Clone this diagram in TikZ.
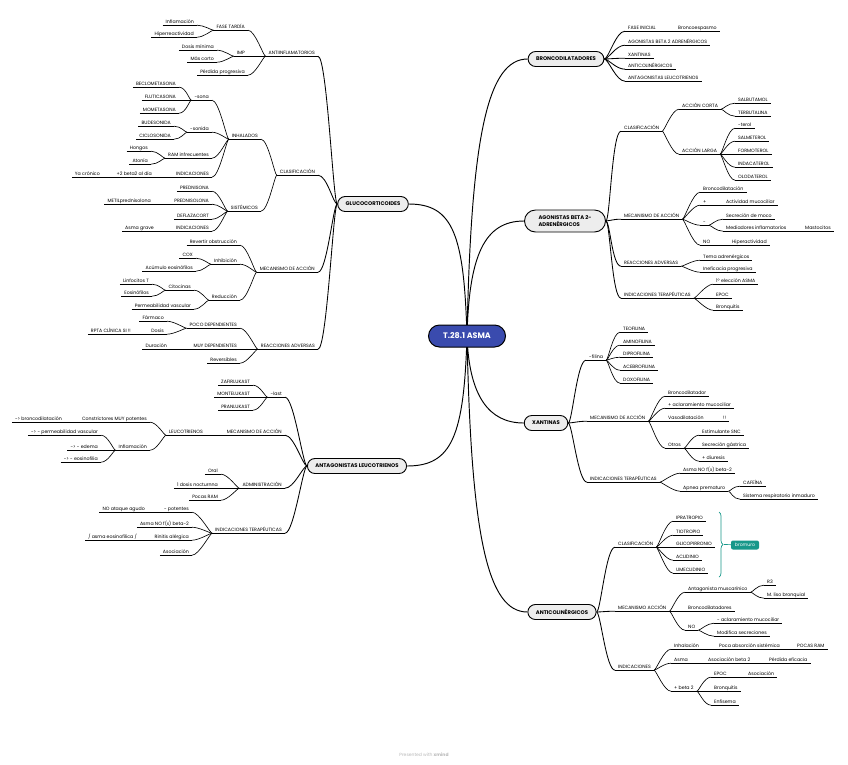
\documentclass[tikz,border=0pt]{standalone}
\usepackage{fontspec}
\setmainfont{Poppins}
\usetikzlibrary{backgrounds,decorations.pathreplacing}
\definecolor{asmablue}{HTML}{3A4BAE}
\definecolor{topicgray}{HTML}{EDEDED}
\definecolor{bromteal}{HTML}{17988A}
\newcommand{\lbl}{\fontsize{4.7}{5}\selectfont}
\newcommand{\tpc}{\fontsize{5.3}{7}\selectfont\bfseries}

\begin{document}
\begin{tikzpicture}[x=1pt,y=-1pt,
   lt/.style={font=\lbl, inner xsep=3pt, inner ysep=0.8pt, text height=3.4pt, text depth=1pt, anchor=east,
     append after command={(\tikzlastnode.south west) edge[line width=0.65pt] (\tikzlastnode.south east)}},
   rt/.style={lt, anchor=west},
   topic/.style={draw, line width=0.9pt, fill=topicgray, rounded corners=7.5pt, minimum height=15pt, inner xsep=8pt, font=\tpc},
   lk/.style={line width=0.65pt, out=180, in=0, out distance=2pt, in distance=7pt},
   rk/.style={line width=0.65pt, out=0, in=180, out distance=2pt, in distance=7pt},
   lk0/.style={lk, line width=0.85pt, out distance=4pt, in distance=9pt},
   rk0/.style={rk, line width=0.85pt, out distance=4pt, in distance=9pt},
   ck/.style={line width=0.95pt}]
  \useasboundingbox (0,0) rectangle (848,764);

  % centre and main topics
  \node[draw, line width=1pt, fill=asmablue, text=white, rounded corners=11pt, minimum width=77pt,
        minimum height=22pt, font=\fontsize{8}{9}\selectfont\bfseries] (asma) at (467,336) {T.28.1 ASMA};
  \node[topic] (gluco) at (373,204) {GLUCOCORTICOIDES};
  \node[topic] (antag) at (357,466) {ANTAGONISTAS LEUCOTRIENOS};
  \node[topic] (bronco) at (566,59) {BRONCODILATADORES};
  \node[topic, align=left, minimum width=81pt, minimum height=22pt, rounded corners=11pt] (agon) at (565,221) {AGONISTAS BETA 2-\\ADRENÉRGICOS};
  \node[topic] (xant) at (546,423) {XANTINAS};
  \node[topic] (anticol) at (562,612) {ANTICOLINÉRGICOS};

  % glucocorticoides
  \node[lt] (antiinf) at (318,53) {ANTIINFLAMATORIOS};
  \node[lt] (fasetard) at (248,27) {FASE TARDÍA};
  \node[lt] (inflam) at (197,22) {Inflamación};
  \node[lt] (hiperreac) at (197,34) {Hiperreactividad};
  \node[lt] (imp) at (248,53) {IMP};
  \node[lt] (dosismin) at (217,47) {Dosis mínima};
  \node[lt] (mascorto) at (217,59) {Más corto};
  \node[lt] (perdprog) at (248,72) {Pérdida progresiva};
  \node[lt] (clasif) at (318,172) {CLASIFICACIÓN};
  \node[lt] (inhal) at (261,136) {INHALADOS};
  \node[lt] (sona) at (212,97) {-sona};
  \node[lt] (beclo) at (179,84) {BECLOMETASONA};
  \node[lt] (flutic) at (179,97) {FLUTICASONA};
  \node[lt] (mometa) at (179,110) {MOMETASONA};
  \node[lt] (sonida) at (212,129) {-sonida};
  \node[lt] (budes) at (174,123) {BUDESONIDA};
  \node[lt] (ciclo) at (174,136) {CICLOSONIDA};
  \node[lt] (raminf) at (212,155) {RAM infrecuentes};
  \node[lt] (hongos) at (151,148) {Hongos};
  \node[lt] (atonia) at (151,161) {Atonía};
  \node[lt] (indinh) at (212,174) {INDICACIONES};
  \node[lt] (dosbeta) at (155,174) {+2 beta2 al día};
  \node[lt] (yacron) at (103,174) {Ya crónico};
  \node[lt] (sistem) at (261,208) {SISTÉMICOS};
  \node[lt] (predniso) at (212,188) {PREDNISONA};
  \node[lt] (prednisol) at (212,201) {PREDNISOLONA};
  \node[lt] (metil) at (154,201) {METILprednisolona};
  \node[lt] (deflaz) at (212,216) {DEFLAZACORT};
  \node[lt] (indsis) at (212,228) {INDICACIONES};
  \node[lt] (asmagrave) at (157,228) {Asma grave};
  \node[lt] (mecgl) at (318,269) {MECANISMO DE ACCIÓN};
  \node[lt] (revert) at (240,242) {Revertir obstrucción};
  \node[lt] (inhib) at (240,261) {Inhibición};
  \node[lt] (cox) at (196,255) {COX};
  \node[lt] (acumulo) at (196,268) {Acúmulo eosinófilos};
  \node[lt] (reduc) at (240,297) {Reducción};
  \node[lt] (citoc) at (194,287) {Citocinas};
  \node[lt] (linfo) at (152,281) {Linfocitos T};
  \node[lt] (eosino) at (152,293) {Eosinófilos};
  \node[lt] (permvasc) at (194,306) {Permeabilidad vascular};
  \node[lt] (reacgl) at (318,346) {REACCIONES ADVERSAS};
  \node[lt] (poco) at (240,325) {POCO DEPENDIENTES};
  \node[lt] (farmaco) at (167,318) {Fármaco};
  \node[lt] (dosis) at (167,331) {Dosis};
  \node[lt] (rpta) at (134,331) {RPTA CLÍNICA SI !!};
  \node[lt] (muy) at (240,346) {MUY DEPENDIENTES};
  \node[lt] (durac) at (170,346) {Duración};
  \node[lt] (revers) at (240,360) {Reversibles};

  % antagonistas leucotrienos
  \node[lt] (last) at (285,394) {-last};
  \node[lt] (zafir) at (253,382) {ZAFIRLUKAST};
  \node[lt] (monte) at (253,394) {MONTELUKAST};
  \node[lt] (pranlu) at (253,407) {PRANLUKAST};
  \node[lt] (mecan) at (285,432) {MECANISMO DE ACCIÓN};
  \node[lt] (leuco) at (206,432) {LEUCOTRIENOS};
  \node[lt] (constr) at (150,419) {Constrictores MUY potentes};
  \node[lt] (broncod) at (65,419) {-> broncodilatación};
  \node[lt] (inflaml) at (150,447) {Inflamación};
  \node[lt] (perml) at (101,432) {-> - permeabilidad vascular};
  \node[lt] (edema) at (101,447) {-> - edema};
  \node[lt] (eosinof) at (101,459) {-> - eosinofilia};
  \node[lt] (admin) at (285,485) {ADMINISTRACIÓN};
  \node[lt] (oral) at (221,471) {Oral};
  \node[lt] (nocturna) at (221,485) {1 dosis nocturnna};
  \node[lt] (pocasram) at (221,497) {Pocas RAM};
  \node[lt] (indant) at (285,530) {INDICACIONES TERAPÉUTICAS};
  \node[lt] (menospot) at (192,509) {- potentes};
  \node[lt] (noataque) at (148,509) {NO ataque agudo};
  \node[lt] (asmanof) at (192,524) {Asma NO f(x) beta-2};
  \node[lt] (rinitis) at (192,537) {Rinitis alérgica};
  \node[lt] (asmaeos) at (140,537) {/ asma eosinofílica /};
  \node[lt] (asoc) at (192,552) {Asociación};

  % broncodilatadores
  \node[rt] (faseini) at (625,28) {FASE INICIAL};
  \node[rt] (broncoesp) at (675,28) {Broncoespasmo};
  \node[rt] (agbeta) at (625,42) {AGONISTAS BETA 2 ADRENÉRGICOS};
  \node[rt] (xant2) at (625,55) {XANTINAS};
  \node[rt] (anticol2) at (625,66) {ANTICOLINÉRGICOS};
  \node[rt] (antag2) at (625,78) {ANTAGONISTAS LEUCOTRIENOS};

  % agonistas beta 2
  \node[rt] (clasag) at (621,128) {CLASIFICACIÓN};
  \node[rt] (corta) at (679,106) {ACCIÓN CORTA};
  \node[rt] (salbu) at (735,100) {SALBUTAMOL};
  \node[rt] (terbu) at (735,113) {TERBUTALINA};
  \node[rt] (larga) at (679,151) {ACCIÓN LARGA};
  \node[rt] (terol) at (735,125) {-terol};
  \node[rt] (salme) at (735,138) {SALMETEROL};
  \node[rt] (formo) at (735,151) {FORMOTEROL};
  \node[rt] (indaca) at (735,164) {INDACATEROL};
  \node[rt] (oloda) at (735,177) {OLODATEROL};
  \node[rt] (mecag) at (621,216) {MECANISMO DE ACCIÓN};
  \node[rt] (broncodil) at (700,189) {Broncodilatación};
  \node[rt] (mas) at (700,202) {+};
  \node[rt] (actmuc) at (723,202) {Actividad mucociliar};
  \node[rt] (menos) at (700,222) {-};
  \node[rt] (secmoco) at (723,216) {Secreción de moco};
  \node[rt] (mediad) at (723,228) {Mediadores inflamatorios};
  \node[rt] (masto) at (802,228) {Mastocitos};
  \node[rt] (noag) at (700,242) {NO};
  \node[rt] (hiperact) at (729,242) {Hiperactividad};
  \node[rt] (reacag) at (621,263) {REACCIONES ADVERSAS};
  \node[rt] (temb) at (700,257) {Tema adrenérgicos};
  \node[rt] (inef) at (700,269) {Ineficacia progresiva};
  \node[rt] (indag) at (621,295) {INDICACIONES TERAPÉUTICAS};
  \node[rt] (primera) at (713,281) {1º elección ASMA};
  \node[rt] (epocag) at (713,295) {EPOC};
  \node[rt] (bronqag) at (713,307) {Bronquitis};

  % xantinas
  \node[rt] (filina) at (586,357) {-filina};
  \node[rt] (teo) at (620,329) {TEOFILINA};
  \node[rt] (amino) at (620,342) {AMINOFILINA};
  \node[rt] (dipro) at (620,354) {DIPROFILINA};
  \node[rt] (acebro) at (620,367) {ACEBROFILINA};
  \node[rt] (doxo) at (620,380) {DOXOFILINA};
  \node[rt] (mecx) at (587,418) {MECANISMO DE ACCIÓN};
  \node[rt] (broncodor) at (665,393) {Broncodilatador};
  \node[rt] (aclar) at (665,405) {+ aclaramiento mucociliar};
  \node[rt] (vasod) at (665,418) {Vasodilatación};
  \node[rt] (excl) at (720,418) {!!};
  \node[rt] (otros) at (665,445) {Otros};
  \node[rt] (estim) at (699,432) {Estimulante SNC};
  \node[rt] (secgas) at (699,445) {Secreción gástrica};
  \node[rt] (diur) at (699,458) {+ diuresis};
  \node[rt] (indx) at (587,479) {INDICACIONES TERAPÉUTICAS};
  \node[rt] (asmax) at (680,470) {Asma NO f(x) beta-2};
  \node[rt] (apnea) at (680,488) {Apnea prematuro};
  \node[rt] (cafe) at (740,483) {CAFEÍNA};
  \node[rt] (sistresp) at (740,496) {Sistema respiratorio inmaduro};

  % anticolinergicos
  \node[rt] (clasac) at (615,544) {CLASIFICACIÓN};
  \node[rt] (ipra) at (673,518) {IPRATROPIO};
  \node[rt] (tio) at (673,532) {TIOTROPIO};
  \node[rt] (glico) at (673,544) {GLICOPIRRONIO};
  \node[rt] (acli) at (673,557) {ACLIDINIO};
  \node[rt] (umec) at (673,570) {UMECLIDINIO};
  \node[fill=bromteal, text=white, rounded corners=2pt, font=\fontsize{4.6}{5}\selectfont,
        inner xsep=3pt, inner ysep=1pt, minimum width=28pt, minimum height=9pt] (bromuro) at (745,545) {bromuro};
  \draw[bromteal, line width=0.7pt, decorate, decoration={brace, amplitude=4pt}] (719,512) -- (719,577);
  \coordinate (bracetip) at (724,544.5);
  \draw[bromteal, line width=0.7pt] (bracetip) -- (bromuro);
  \node[rt] (mecac) at (615,608) {MECANISMO ACCIÓN};
  \node[rt] (antmusc) at (685,589) {Antagonista muscarínico};
  \node[rt] (rtres) at (764,582) {R3};
  \node[rt] (mliso) at (764,595) {M. liso bronquial};
  \node[rt] (broncodores) at (685,608) {Broncodilatadores};
  \node[rt] (noac) at (685,627) {NO};
  \node[rt] (aclarac) at (714,620) {- aclaramiento mucociliar};
  \node[rt] (modif) at (714,633) {Modifica secreciones};
  \node[rt] (indac) at (615,667) {INDICACIONES};
  \node[rt] (inhalac) at (671,646) {Inhalación};
  \node[rt] (pocaabs) at (716,646) {Poca absorción sistémica};
  \node[rt] (pocasramac) at (794,646) {POCAS RAM};
  \node[rt] (asmaac) at (671,660) {Asma};
  \node[rt] (asocbeta) at (705,660) {Asociación beta 2};
  \node[rt] (perdef) at (766,660) {Pérdida eficacia};
  \node[rt] (masbeta) at (671,688) {+ beta 2};
  \node[rt] (epocac) at (711,674) {EPOC};
  \node[rt] (asocac) at (745,674) {Asociación};
  \node[rt] (bronqac) at (711,688) {Bronquitis};
  \node[rt] (enfis) at (711,702) {Enfisema};

  \node[text=gray!55, font=\fontsize{4.5}{5}\selectfont] (credit) at (424,755) {Presented with \textbf{xmind}};

  \begin{scope}[on background layer]
  \fill[white] (0,0) rectangle (848,764);
  % centre links
  \draw[ck] (asma.center) .. controls +(-3,-100) and +(45,0) .. (gluco.east);
  \draw[ck] (asma.center) .. controls +(-3,100) and +(45,0) .. (antag.east);
  \draw[ck] (asma.center) .. controls +(4,-200) and +(-40,0) .. (bronco.west);
  \draw[ck] (asma.center) .. controls +(2,-80) and +(-40,0) .. (agon.west);
  \draw[ck] (asma.center) .. controls +(2,60) and +(-35,0) .. (xant.west);
  \draw[ck] (asma.center) .. controls +(4,200) and +(-40,0) .. (anticol.west);
  % left side
  \path[lk0] (gluco.west) edge (antiinf.south east) edge (clasif.south east) edge (mecgl.south east) edge (reacgl.south east);
  \path[lk] (antiinf.south west) edge (fasetard.south east) edge (imp.south east) edge (perdprog.south east);
  \path[lk] (fasetard.south west) edge (inflam.south east) edge (hiperreac.south east);
  \path[lk] (imp.south west) edge (dosismin.south east) edge (mascorto.south east);
  \path[lk] (clasif.south west) edge (inhal.south east) edge (sistem.south east);
  \path[lk] (inhal.south west) edge (sona.south east) edge (sonida.south east) edge (raminf.south east) edge (indinh.south east);
  \path[lk] (sona.south west) edge (beclo.south east) edge (flutic.south east) edge (mometa.south east);
  \path[lk] (sonida.south west) edge (budes.south east) edge (ciclo.south east);
  \path[lk] (raminf.south west) edge (hongos.south east) edge (atonia.south east);
  \path[lk] (indinh.south west) edge (dosbeta.south east);
  \path[lk] (dosbeta.south west) edge (yacron.south east);
  \path[lk] (sistem.south west) edge (predniso.south east) edge (prednisol.south east) edge (deflaz.south east) edge (indsis.south east);
  \path[lk] (prednisol.south west) edge (metil.south east);
  \path[lk] (indsis.south west) edge (asmagrave.south east);
  \path[lk] (mecgl.south west) edge (revert.south east) edge (inhib.south east) edge (reduc.south east);
  \path[lk] (inhib.south west) edge (cox.south east) edge (acumulo.south east);
  \path[lk] (reduc.south west) edge (citoc.south east) edge (permvasc.south east);
  \path[lk] (citoc.south west) edge (linfo.south east) edge (eosino.south east);
  \path[lk] (reacgl.south west) edge (poco.south east) edge (muy.south east) edge (revers.south east);
  \path[lk] (poco.south west) edge (farmaco.south east) edge (dosis.south east);
  \path[lk] (dosis.south west) edge (rpta.south east);
  \path[lk] (muy.south west) edge (durac.south east);
  \path[lk0] (antag.west) edge (last.south east) edge (mecan.south east) edge (admin.south east) edge (indant.south east);
  \path[lk] (last.south west) edge (zafir.south east) edge (monte.south east) edge (pranlu.south east);
  \path[lk] (mecan.south west) edge (leuco.south east);
  \path[lk] (leuco.south west) edge (constr.south east) edge (inflaml.south east);
  \path[lk] (constr.south west) edge (broncod.south east);
  \path[lk] (inflaml.south west) edge (perml.south east) edge (edema.south east) edge (eosinof.south east);
  \path[lk] (admin.south west) edge (oral.south east) edge (nocturna.south east) edge (pocasram.south east);
  \path[lk] (indant.south west) edge (menospot.south east) edge (asmanof.south east) edge (rinitis.south east) edge (asoc.south east);
  \path[lk] (menospot.south west) edge (noataque.south east);
  \path[lk] (rinitis.south west) edge (asmaeos.south east);
  % right side
  \path[rk0] (bronco.east) edge (faseini.south west) edge (agbeta.south west) edge (xant2.south west) edge (anticol2.south west) edge (antag2.south west);
  \path[rk] (faseini.south east) edge (broncoesp.south west);
  \path[rk0] (agon.east) edge (clasag.south west) edge (mecag.south west) edge (reacag.south west) edge (indag.south west);
  \path[rk] (clasag.south east) edge (corta.south west) edge (larga.south west);
  \path[rk] (corta.south east) edge (salbu.south west) edge (terbu.south west);
  \path[rk] (larga.south east) edge (terol.south west) edge (salme.south west) edge (formo.south west) edge (indaca.south west) edge (oloda.south west);
  \path[rk] (mecag.south east) edge (broncodil.south west) edge (mas.south west) edge (menos.south west) edge (noag.south west);
  \path[rk] (mas.south east) edge (actmuc.south west);
  \path[rk] (menos.south east) edge (secmoco.south west) edge (mediad.south west);
  \path[rk] (mediad.south east) edge (masto.south west);
  \path[rk] (noag.south east) edge (hiperact.south west);
  \path[rk] (reacag.south east) edge (temb.south west) edge (inef.south west);
  \path[rk] (indag.south east) edge (primera.south west) edge (epocag.south west) edge (bronqag.south west);
  \path[rk0] (xant.east) edge (filina.south west) edge (mecx.south west) edge (indx.south west);
  \path[rk] (filina.south east) edge (teo.south west) edge (amino.south west) edge (dipro.south west) edge (acebro.south west) edge (doxo.south west);
  \path[rk] (mecx.south east) edge (broncodor.south west) edge (aclar.south west) edge (vasod.south west) edge (otros.south west);
  \path[rk] (vasod.south east) edge (excl.south west);
  \path[rk] (otros.south east) edge (estim.south west) edge (secgas.south west) edge (diur.south west);
  \path[rk] (indx.south east) edge (asmax.south west) edge (apnea.south west);
  \path[rk] (apnea.south east) edge (cafe.south west) edge (sistresp.south west);
  \path[rk0] (anticol.east) edge (clasac.south west) edge (mecac.south west) edge (indac.south west);
  \path[rk] (clasac.south east) edge (ipra.south west) edge (tio.south west) edge (glico.south west) edge (acli.south west) edge (umec.south west);
  \path[rk] (mecac.south east) edge (antmusc.south west) edge (broncodores.south west) edge (noac.south west);
  \path[rk] (antmusc.south east) edge (rtres.south west) edge (mliso.south west);
  \path[rk] (noac.south east) edge (aclarac.south west) edge (modif.south west);
  \path[rk] (indac.south east) edge (inhalac.south west) edge (asmaac.south west) edge (masbeta.south west);
  \path[rk] (inhalac.south east) edge (pocaabs.south west);
  \path[rk] (pocaabs.south east) edge (pocasramac.south west);
  \path[rk] (asmaac.south east) edge (asocbeta.south west);
  \path[rk] (asocbeta.south east) edge (perdef.south west);
  \path[rk] (masbeta.south east) edge (epocac.south west) edge (bronqac.south west) edge (enfis.south west);
  \path[rk] (epocac.south east) edge (asocac.south west);
  \end{scope}
\end{tikzpicture}
\end{document}
